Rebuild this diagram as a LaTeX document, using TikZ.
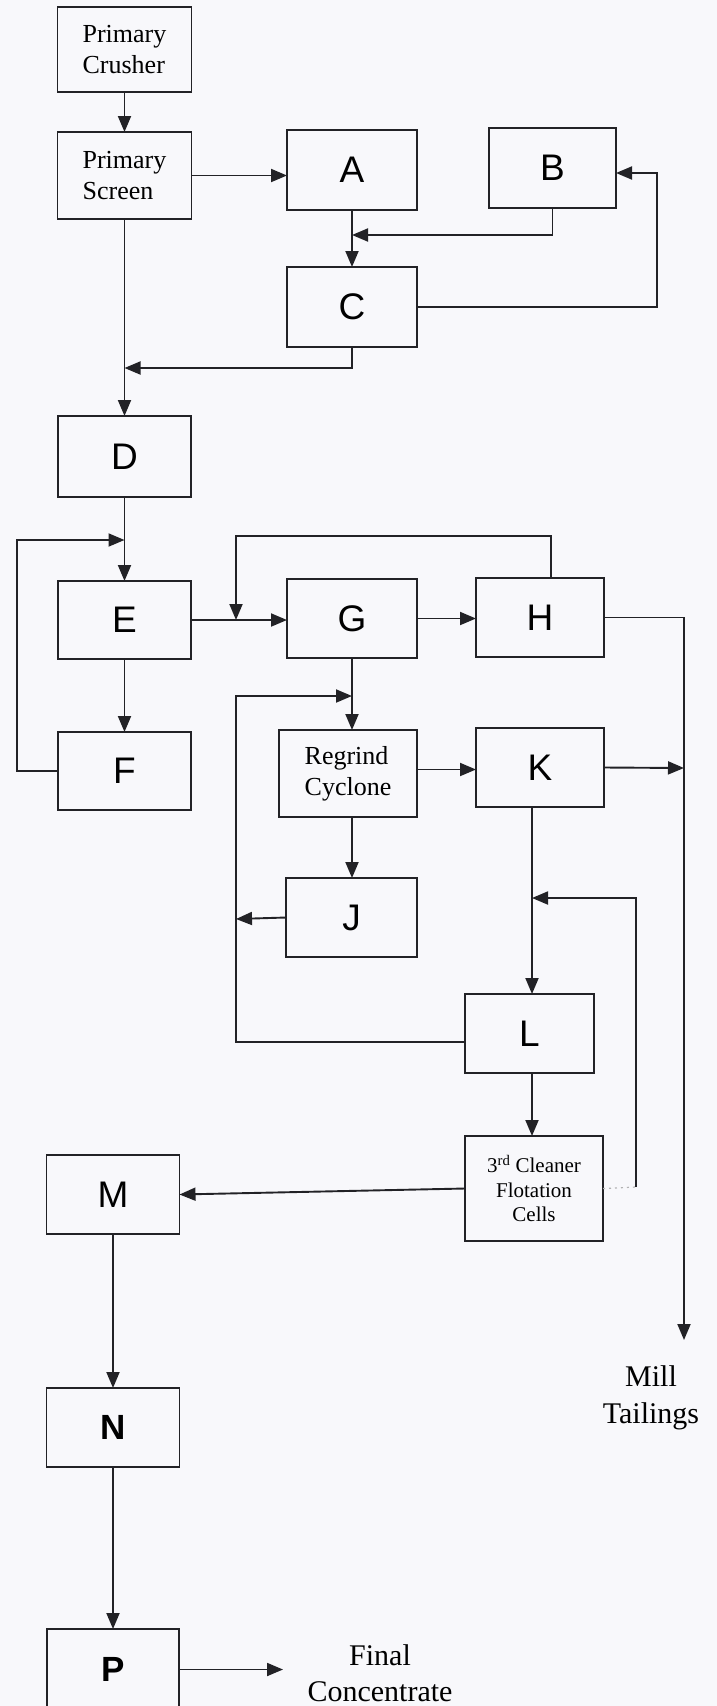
\documentclass[tikz,border=0pt]{standalone}
\usepackage{fontspec}
\setmainfont{Liberation Serif}
\newfontfamily\arialf{Liberation Sans}
\usetikzlibrary{arrows.meta}
\definecolor{bg}{RGB}{248,248,251}
\definecolor{ink}{RGB}{34,34,38}
\begin{document}
\begin{tikzpicture}[x=1pt,y=-1pt,
  box/.style={draw=ink, line width=1.9pt, inner sep=0pt, outer sep=0pt, align=center},
  letter/.style={box, font=\arialf\fontsize{37}{40}\selectfont},
  bletter/.style={box, font=\arialf\bfseries\fontsize{35}{40}\selectfont},
  serif/.style={font=\fontsize{26}{31}\selectfont},
  arr/.style={draw=ink, line width=1.9pt, -{Triangle[length=16pt,width=13pt]}},
  faint/.style={draw=ink!35, line width=1.2pt, dash pattern=on 2pt off 4pt}]
\useasboundingbox (0,0) rectangle (717,1706);
\clip (0,0) rectangle (717,1706);
\fill[bg] (0,0) rectangle (717,1706);

% boxes
\node[box,serif,align=left,minimum width=134,minimum height=85] (crusher) at (124.5,49.5) {Primary\\Crusher};
\node[box,serif,align=left,minimum width=134,minimum height=87] (screen) at (124.5,175.5) {Primary\\Screen};
\node[letter,minimum width=130,minimum height=80] (A) at (352,170) {A};
\node[letter,minimum width=127,minimum height=80] (B) at (552.5,168) {B};
\node[letter,minimum width=130,minimum height=80] (C) at (352,307) {C};
\node[letter,minimum width=133,minimum height=81] (D) at (124.5,456.5) {D};
\node[letter,minimum width=133,minimum height=78] (E) at (124.5,620) {E};
\node[letter,minimum width=133,minimum height=78] (F) at (124.5,771) {F};
\node[letter,minimum width=130,minimum height=79] (G) at (352,618.5) {G};
\node[letter,minimum width=128,minimum height=79] (H) at (540,617.5) {H};
\node[box,serif,align=left,minimum width=138,minimum height=87] (regrind) at (348,773.5) {Regrind\\Cyclone};
\node[letter,minimum width=128,minimum height=79] (K) at (540,767.5) {K};
\node[letter,minimum width=131,minimum height=79] (J) at (351.5,917.5) {J};
\node[letter,minimum width=129,minimum height=79] (L) at (529.5,1033.5) {L};
\node[box,font=\fontsize{21}{24.5}\selectfont,minimum width=138,minimum height=105] (cleaner) at (534,1188.5) {3\textsuperscript{rd} Cleaner\\Flotation\\Cells};
\node[letter,minimum width=133,minimum height=79] (M) at (113,1194.5) {M};
\node[bletter,minimum width=133,minimum height=79] (N) at (113,1427.5) {N};
\node[bletter,minimum width=132,minimum height=81] (P) at (113,1669.5) {P};

% free labels
\node[font=\fontsize{30}{37}\selectfont,align=center] (mill) at (651,1398) {Mill\\Tailings};
\node[font=\fontsize{30}{36}\selectfont,align=center] (final) at (380,1673) {Final\\Concentrate};

% junction coordinates
\coordinate (jAC) at (352,235);
\coordinate (jSD) at (124.5,368);
\coordinate (jDE) at (124.5,540);
\coordinate (jEG) at (236,620);
\coordinate (jGR) at (352,696);
\coordinate (jKT) at (684,768);
\coordinate (jJ) at (236,919);
\coordinate (jKL) at (532,898);
\coordinate (rc) at (636,1187);
\coordinate (tail) at (684,1340);
\coordinate (fc) at (283,1667);

% connectors
\draw[arr] (crusher) -- (screen);
\draw[arr] (screen.east) -- (screen.east -| A.west);
\draw[arr] (A) -- (C);
\draw[arr] (B.south) |- (jAC);
\draw[arr] (C.east) -- ++(240,0) |- ([yshift=-5pt]B.east);
\draw[arr] (C.south) |- (jSD);
\draw[arr] (screen) -- (D);
\draw[arr] (D) -- (E);
\draw[arr] (E) -- (F);
\draw[arr] (F.west) -- ++(-41,0) |- (jDE);
\draw[arr] (E.east) -- (E.east -| G.west);
\draw[arr] (G.east) -- (G.east -| H.west);
\draw[arr] ([xshift=11pt]H.north) -- ++(0,-42) -| (jEG);
\draw[arr] (H.east) -| (tail);
\draw[arr] (G.south) -- (G.south |- regrind.north);
\draw[arr] ([yshift=4pt]regrind.east) -- ([yshift=4pt]regrind.east -| K.west);
\draw[arr] (K.east) -- (jKT);
\draw[arr] (G.south |- regrind.south) -- (G.south |- J.north);
\draw[arr] (J.west) -- (jJ);
\draw[arr] ([xshift=-8pt]K.south) -- ([xshift=-8pt]K.south |- L.north);
\draw[arr] ([yshift=-8.5pt]L.west) -- ++(-229,0) |- (jGR);
\draw[arr] ([xshift=2.5pt]L.south) -- ([xshift=2.5pt]L.south |- cleaner.north);
\draw[arr] (cleaner.west) -- (M.east);
\draw[faint] (cleaner.east) -- (rc);
\draw[arr] (rc) |- (jKL);
\draw[arr] (M) -- (N);
\draw[arr] (N) -- (P);
\draw[arr] (P.east) -- (P.east -| fc);
\end{tikzpicture}
\end{document}
